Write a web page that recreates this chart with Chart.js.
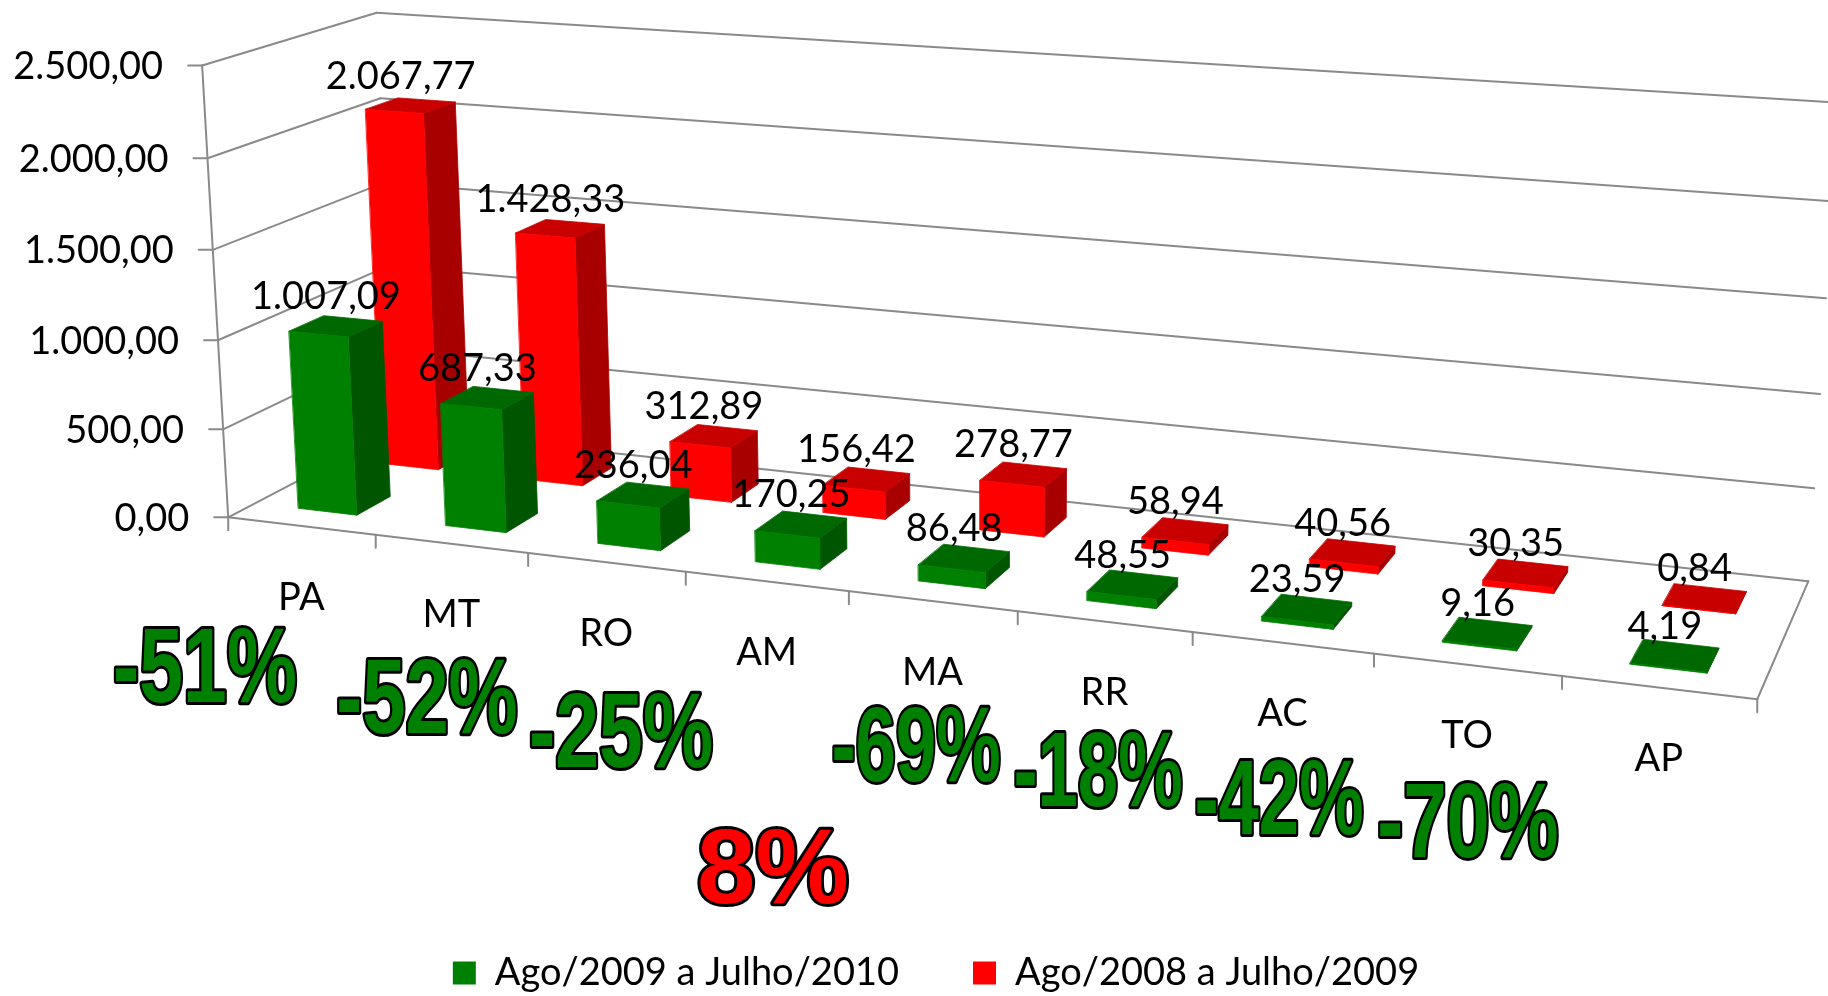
<!DOCTYPE html>
<html>
<head>
<meta charset="utf-8">
<script src="https://cdn.jsdelivr.net/npm/chart.js@4.4.1/dist/chart.umd.min.js"></script>
<style>
  html, body { margin: 0; padding: 0; background: #ffffff; }
</style>
</head>
<body>
<canvas id="grafico" width="1828" height="996"></canvas>
<script>
// Estados (categorias)
const estados = ["PA", "MT", "RO", "AM", "MA", "RR", "AC", "TO", "AP"];

// Ago/2009 a Julho/2010
const valores2010 = [1007.09, 687.33, 236.04, 170.25, 86.48, 48.55, 23.59, 9.16, 4.19];

// Ago/2008 a Julho/2009
const valores2009 = [2067.77, 1428.33, 312.89, 156.42, 278.77, 58.94, 40.56, 30.35, 0.84];

// Variação entre os períodos (texto grande)
const variacoes = ["-51%", "-52%", "-25%", "8%", "-69%", "-18%", "-42%", "-70%", ""];

// Marcas do eixo Y
const ticksY = [0, 500, 1000, 1500, 2000, 2500];

// Cores
const verde = "#008000", verdeLado = "#005500", verdeTopo = "#006800";
const vermelho = "#ff0000", vermelhoLado = "#a80000", vermelhoTopo = "#c80000";
const corGrade = "#8a8a8a";

// Posição do texto de variação (centro) na tela e largura relativa
const posVariacao = [[205, 665], [427, 696], [621, 730], [773, 866], [916, 744], [1098, 769], [1279, 797], [1468, 820]];
const escalaVariacao = [0.75, 0.74, 0.75, 1.0, 0.69, 0.69, 0.69, 0.74];

// Profundidade das fileiras (0 = frente do piso, 1 = parede do fundo)
const fileiras = [[0.15, 0.35], [0.65, 0.85]];

// Cantos da caixa 3D (u, v, w) -> tela, usados para montar a perspectiva
const calibracao = [
  [0, 0, 0, 230, 516], [0, 0.2, 0, 223, 428], [0, 0.4, 0, 218, 339], [0, 0.6, 0, 212, 249], [0, 0.8, 0, 207, 158], [0, 1, 0, 202, 66],
  [0, 1, 1, 380, 13], [0, 0.8, 1, 380, 98], [0, 0.6, 1, 380, 184],
  [1/9, 0, 0, 377, 537], [2/9, 0, 0, 528, 553], [4/9, 0, 0, 849, 592], [5/9, 0, 0, 1018, 612],
  [6/9, 0, 0, 1193, 632], [7/9, 0, 0, 1374, 655], [8/9, 0, 0, 1561, 677], [1, 0, 0, 1756, 698],
  [1, 0, 1, 1808, 580], [1, 0.2, 1, 1815, 488], [1, 0.4, 1, 1821, 394]
];

// Ajuste da matriz de projeção (mínimos quadrados)
function ajustarProjecao(pts)
{
  const N = Array.from({ length: 11 }, () => new Array(11).fill(0));
  const r = new Array(11).fill(0);
  pts.forEach(([X, Y, Z, px, py]) =>
  {
    const x = (px - 900) / 900, y = (py - 500) / 500;
    const linhas = [
      [[X, Y, Z, 1, 0, 0, 0, 0, -x * X, -x * Y, -x * Z], x],
      [[0, 0, 0, 0, X, Y, Z, 1, -y * X, -y * Y, -y * Z], y]
    ];
    linhas.forEach(([a, b]) =>
    {
      for (let i = 0; i < 11; i++)
      {
        r[i] += a[i] * b;
        for (let j = 0; j < 11; j++) N[i][j] += a[i] * a[j];
      }
    });
  });
  for (let c = 0; c < 11; c++)
  {
    let p = c;
    for (let k = c + 1; k < 11; k++) if (Math.abs(N[k][c]) > Math.abs(N[p][c])) p = k;
    [N[c], N[p]] = [N[p], N[c]];
    [r[c], r[p]] = [r[p], r[c]];
    for (let k = c + 1; k < 11; k++)
    {
      const f = N[k][c] / N[c][c];
      for (let j = c; j < 11; j++) N[k][j] -= f * N[c][j];
      r[k] -= f * r[c];
    }
  }
  const s = new Array(11).fill(0);
  for (let i = 10; i >= 0; i--)
  {
    let t = r[i];
    for (let j = i + 1; j < 11; j++) t -= N[i][j] * s[j];
    s[i] = t / N[i][i];
  }
  return s;
}

const P = ajustarProjecao(calibracao);

function proj(u, v, w)
{
  const d = P[8] * u + P[9] * v + P[10] * w + 1;
  const x = (P[0] * u + P[1] * v + P[2] * w + P[3]) / d;
  const y = (P[4] * u + P[5] * v + P[6] * w + P[7]) / d;
  return [x * 900 + 900, y * 500 + 500];
}

function linha(ctx, a, b)
{
  ctx.beginPath();
  ctx.moveTo(a[0], a[1]);
  ctx.lineTo(b[0], b[1]);
  ctx.stroke();
}

// Formato brasileiro: 1.007,09
function formatar(n)
{
  const [i, d] = n.toFixed(2).split(".");
  return i.replace(/\B(?=(\d{3})+(?!\d))/g, ".") + "," + d;
}

function face(ctx, pts, cor)
{
  const q = pts.map(p => proj(p[0], p[1], p[2]));
  let area = 0;
  for (let i = 0; i < q.length; i++)
  {
    const a = q[i], b = q[(i + 1) % q.length];
    area += a[0] * b[1] - b[0] * a[1];
  }
  if (area >= 0) return; // face de costas
  ctx.beginPath();
  ctx.moveTo(q[0][0], q[0][1]);
  for (let i = 1; i < q.length; i++) ctx.lineTo(q[i][0], q[i][1]);
  ctx.closePath();
  ctx.fillStyle = cor;
  ctx.fill();
  ctx.strokeStyle = cor;
  ctx.lineWidth = 0.8;
  ctx.stroke();
}

function caixa(ctx, u0, u1, v0, v1, w0, w1, cores)
{
  // lados e topo primeiro, frente por último
  face(ctx, [[u0, v0, w1], [u0, v0, w0], [u0, v1, w0], [u0, v1, w1]], cores[1]);
  face(ctx, [[u1, v0, w0], [u1, v0, w1], [u1, v1, w1], [u1, v1, w0]], cores[1]);
  face(ctx, [[u0, v1, w0], [u1, v1, w0], [u1, v1, w1], [u0, v1, w1]], cores[2]);
  face(ctx, [[u0, v0, w0], [u1, v0, w0], [u1, v1, w0], [u0, v1, w0]], cores[0]);
}

const fonteTexto = "38px Lato, 'Open Sans', sans-serif";
const altCaixaAlta = 27;

const cena3d =
{
  id: "cena3d",
  beforeDatasetsDraw() { return false; },
  afterDraw(chart)
  {
    const ctx = chart.ctx;
    const area = chart.chartArea;
    const xs = chart.scales.x, ys = chart.scales.y;
    const U = px => (px - area.left) / area.width;
    const V = py => (area.bottom - py) / area.height;

    ctx.save();

    // Grade nas paredes esquerda e do fundo
    ctx.strokeStyle = corGrade;
    ctx.lineWidth = 2;
    ctx.lineCap = "round";
    ticksY.forEach(t =>
    {
      const v = V(ys.getPixelForValue(t));
      linha(ctx, proj(0, v, 0), proj(0, v, 1));
      linha(ctx, proj(0, v, 1), proj(1, v, 1));
      const p = proj(0, v, 0);
      linha(ctx, [p[0] - 14, p[1]], p);
    });

    // Eixo vertical da frente e piso
    linha(ctx, proj(0, 0, 0), proj(0, 1, 0));
    linha(ctx, proj(0, 0, 0), proj(1, 0, 0));
    linha(ctx, proj(1, 0, 0), proj(1, 0, 1));
    for (let i = 0; i <= estados.length; i++)
    {
      const p = proj(U(xs.getPixelForValue(i - 0.5)), 0, 0);
      linha(ctx, p, [p[0], p[1] + 13]);
    }

    // Rótulos do eixo Y
    ctx.fillStyle = "#000000";
    ctx.font = fonteTexto;
    ctx.textAlign = "right";
    ctx.textBaseline = "alphabetic";
    ticksY.forEach(t =>
    {
      const p = proj(0, V(ys.getPixelForValue(t)), 0);
      ctx.fillText(formatar(t), p[0] - 39, p[1] + altCaixaAlta / 2);
    });

    // Rótulos das categorias
    ctx.textAlign = "center";
    estados.forEach((e, i) =>
    {
      const p = proj(U(xs.getPixelForValue(i)), 0, 0);
      ctx.fillText(e, p[0], p[1] + 70 + altCaixaAlta / 2);
    });

    // Barras: fileira de trás (vermelha) primeiro, depois a da frente (verde)
    const coresSerie = [[verde, verdeLado, verdeTopo], [vermelho, vermelhoLado, vermelhoTopo]];
    const topos = [];
    [1, 0].forEach(d =>
    {
      const meta = chart.getDatasetMeta(d);
      const [w0, w1] = fileiras[d];
      meta.data.forEach((el, i) =>
      {
        const { x, y, base, width } = el.getProps(["x", "y", "base", "width"], true);
        const u0 = U(x - width / 2), u1 = U(x + width / 2);
        const v0 = V(base), v1 = V(y);
        caixa(ctx, u0, u1, v0, v1, w0, w1, coresSerie[d]);
        topos.push([proj((u0 + u1) / 2, v1, (w0 + w1) / 2), chart.data.datasets[d].data[i]]);
      });
    });

    // Rótulos de valores
    ctx.fillStyle = "#000000";
    ctx.font = fonteTexto;
    ctx.textAlign = "center";
    topos.forEach(([p, val]) =>
    {
      ctx.fillText(formatar(val), p[0] - 10, p[1] - 17);
    });

    // Variações em destaque
    ctx.font = "bold 105px 'Liberation Sans', Arial, sans-serif";
    ctx.textAlign = "center";
    ctx.lineJoin = "round";
    variacoes.forEach((txt, i) =>
    {
      if (!txt) return;
      const [cx, cy] = posVariacao[i];
      ctx.save();
      ctx.translate(cx, cy);
      ctx.scale(escalaVariacao[i], 1);
      ctx.strokeStyle = "#000000";
      ctx.lineWidth = 6;
      ctx.strokeText(txt, 0, 37);
      ctx.fillStyle = txt.startsWith("-") ? verde : vermelho;
      ctx.fillText(txt, 0, 37);
      ctx.restore();
    });

    ctx.restore();
  }
};

const ctx = document.getElementById("grafico").getContext("2d");

new Chart(ctx,
{
  type: "bar",
  data:
  {
    labels: estados,
    datasets: [
    {
      label: "Ago/2009 a Julho/2010",
      data: valores2010,
      backgroundColor: verde,
      borderWidth: 0
    },
    {
      label: "Ago/2008 a Julho/2009",
      data: valores2009,
      backgroundColor: vermelho,
      borderWidth: 0
    }]
  },
  options:
  {
    responsive: false,
    animation: false,
    devicePixelRatio: 1,
    layout: { padding: { top: 0, left: 44, right: 0, bottom: -6 } },
    datasets: { bar: { grouped: false, barPercentage: 0.4, categoryPercentage: 1 } },
    scales:
    {
      x: { display: false, offset: true },
      y: { display: false, min: 0, max: 2500 }
    },
    plugins:
    {
      legend:
      {
        position: "bottom",
        labels:
        {
          color: "#000000",
          font: { family: "Lato", size: 38 },
          boxWidth: 23,
          boxHeight: 23,
          padding: 74
        }
      },
      tooltip: { enabled: false }
    }
  },
  plugins: [cena3d]
});
</script>
</body>
</html>
